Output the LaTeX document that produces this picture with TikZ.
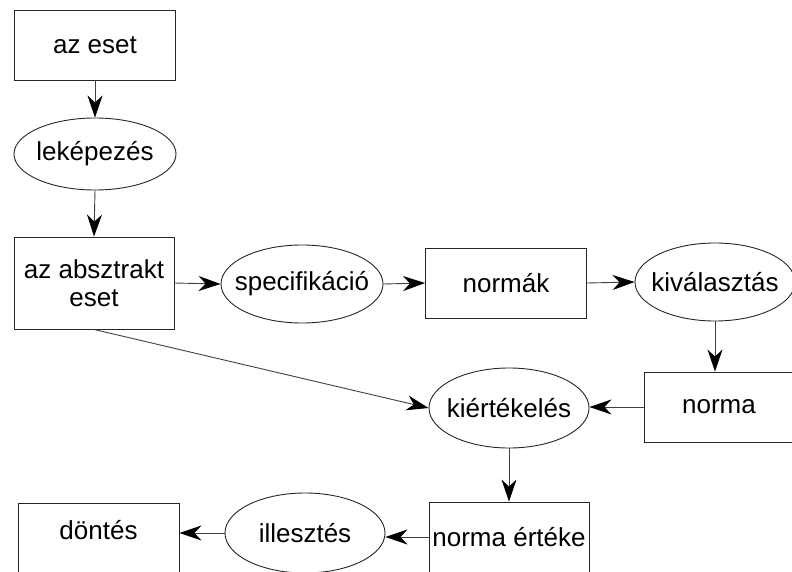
\documentclass[tikz,border=0pt]{standalone}
\usepackage{fontspec}
\setmainfont{Liberation Sans}
\usetikzlibrary{shapes.geometric,arrows.meta}
\begin{document}
\begin{tikzpicture}[x=1pt,y=-1pt,
  every node/.style={font=\fontsize{26}{28}\selectfont, inner sep=0pt, draw=black!85, line width=0.9pt},
  boxnode/.style={rectangle, minimum width=#1, minimum height=70pt},
  ellnode/.style={ellipse, inner xsep=-40pt, minimum width=160pt, minimum height=#1},
  conn/.style={draw=black!75, line width=0.9pt, -{Stealth[length=22pt,width=15pt,inset=7pt,color=black]}}]
\useasboundingbox (0,0) rectangle (792,572);
\clip (0,0) rectangle (792,572);
\node[boxnode=161pt] (azeset) at (95,45) {az eset};
\node[ellnode=72pt, minimum width=162pt] (lekep) at (95,154) {leképezés};
\node[boxnode=160pt, minimum height=92pt, align=center] (absz) at (94,283) {az absztrakt\\eset};
\node[ellnode=78pt, minimum width=162pt] (spec) at (302,284) {specifikáció};
\node[boxnode=161pt] (normak) at (506,283) {normák};
\node[ellnode=78pt] (kival) at (715,282) {kiválasztás};
\node[boxnode=150pt] (norma) at (719,407) {norma};
\node[ellnode=80pt] (kiert) at (509,408) {kiértékelés};
\node[boxnode=160pt] (ertek) at (509,537) {norma értéke};
\node[ellnode=80pt] (illeszt) at (305,533) {illesztés};
\node[boxnode=161pt, text depth=16pt] (dontes) at (98.5,538) {döntés};
\draw[conn] (azeset.south) -- (lekep.north);
\draw[conn] (lekep.south) -- (absz.north);
\draw[conn] (absz.east) -- (spec.west);
\draw[conn] (spec.east) -- (normak.west);
\draw[conn] (normak.east) -- (kival.west);
\draw[conn] (kival.south) -- (kival.south |- norma.north);
\draw[conn] (norma.west) -- (norma.west -| kiert.east);
\draw[conn] (absz.south) -- (kiert.west);
\draw[conn] (kiert.south) -- (ertek.north);
\draw[conn] (ertek.west) -- (ertek.west -| illeszt.east);
\draw[conn] (illeszt.west) -- (illeszt.west -| dontes.east);
\end{tikzpicture}
\end{document}
